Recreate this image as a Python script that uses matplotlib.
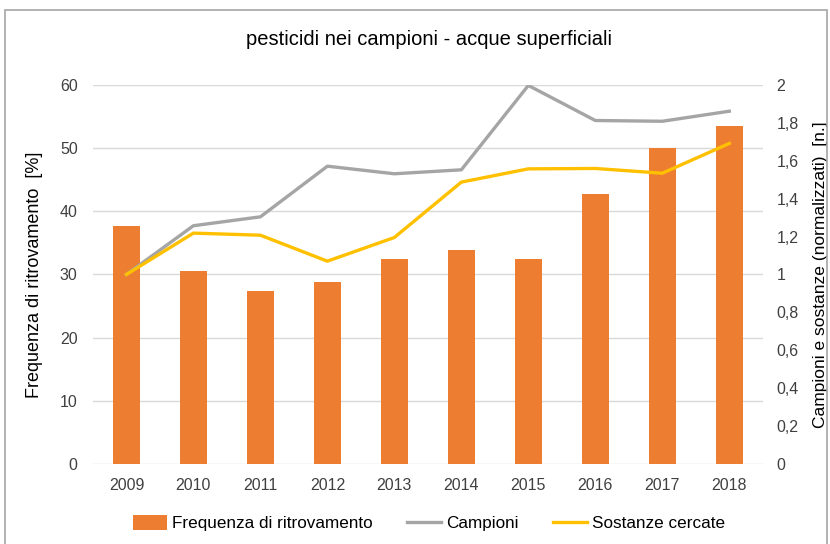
import matplotlib.pyplot as plt
from matplotlib.patches import Rectangle
from matplotlib.ticker import FuncFormatter

anni = ["2009", "2010", "2011", "2012", "2013", "2014", "2015", "2016", "2017", "2018"]
frequenza = [37.7, 30.5, 27.4, 28.8, 32.5, 33.9, 32.5, 42.8, 50.0, 53.5]
campioni = [1.0, 1.257, 1.304, 1.571, 1.531, 1.552, 1.997, 1.812, 1.808, 1.861]
sostanze = [1.0, 1.218, 1.207, 1.07, 1.195, 1.487, 1.557, 1.559, 1.534, 1.691]

plt.rcParams['font.family'] = ['Liberation Sans', 'DejaVu Sans']

fig = plt.figure(figsize=(8.3, 5.44), dpi=100)
# bordo del grafico
fig.patches.append(Rectangle((5 / 830, -0.1), 822 / 830, 1.1 - 10 / 544, transform=fig.transFigure,
                             fill=False, edgecolor="#a6a6a6", linewidth=1.2))

ax = fig.add_axes([0.112, 0.147, 0.807, 0.697])
x = list(range(len(anni)))
b = ax.bar(x, frequenza, width=0.4, color="#ED7D31", label="Frequenza di ritrovamento", zorder=2)
ax.set_ylim(0, 60)
ax.set_xlim(-0.5, 9.5)
ax.set_yticks(range(0, 61, 10))
ax.set_xticks(x)
ax.set_xticklabels(anni)
ax.grid(axis="y", color="#d9d9d9", linewidth=1, zorder=0)
ax.set_axisbelow(True)
for s in ax.spines.values():
    s.set_visible(False)
ax.tick_params(length=0, labelsize=11.5, colors="#404040", pad=10)
ax.tick_params(axis="y", pad=11)
ax.set_ylabel("Frequenza di ritrovamento  [%]", fontsize=13, color="#000000", labelpad=12)

ax2 = ax.twinx()
l1, = ax2.plot(x, campioni, color="#A5A5A5", linewidth=2.4, label="Campioni", zorder=3)
l2, = ax2.plot(x, sostanze, color="#FFC000", linewidth=2.4, label="Sostanze cercate", zorder=3)
ax2.set_ylim(0, 2)
ax2.set_yticks([i * 0.2 for i in range(11)])
ax2.yaxis.set_major_formatter(FuncFormatter(lambda v, p: ("%.1f" % v).replace(".", ",").replace(",0", "")))
for s in ax2.spines.values():
    s.set_visible(False)
ax2.tick_params(length=0, labelsize=11.5, colors="#404040", pad=10)
ax2.set_ylabel("Campioni e sostanze (normalizzati)  [n.]", fontsize=12.5, color="#000000", labelpad=10)

fig.text(0.517, 0.927, "pesticidi nei campioni - acque superficiali", ha="center", va="center",
         fontsize=14.5, color="#000000")

fig.legend(handles=[b, l1, l2], loc="center", bbox_to_anchor=(0.517, 0.038), ncol=3, frameon=False,
           fontsize=12.3, handlelength=2.0, handleheight=0.9, columnspacing=2.0, handletextpad=0.3)

fig.savefig("out.png", dpi=100)
